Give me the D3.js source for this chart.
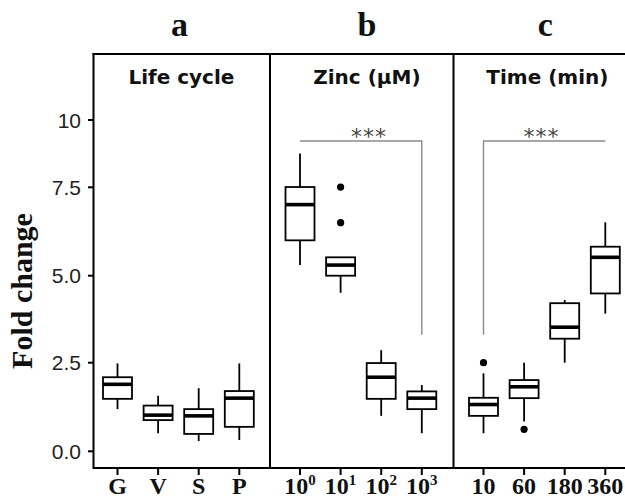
<html>
<head>
<script src="https://d3js.org/d3.v7.min.js"></script>
<style>
  body { margin: 0; background: #fff; }
  svg text { fill: #111; }
</style>
</head>
<body>
<script>
// tick values and labels of the shared y axis
var yTicks = [0, 2.5, 5, 7.5, 10];
var yTickLabels = ["0.0", "2.5", "5.0", "7.5", "10"];

// panels
var panelLetters = ["a", "b", "c"];
var panelTitles = ["Life cycle", "Zinc (\u00b5M)", "Time (min)"];

// categories
var lifeCats = ["G", "V", "S", "P"];
var zincExp = ["0", "1", "2", "3"];      // shown as 10^exp
var timeCats = ["10", "60", "180", "360"];

// box stats: [lower whisker, q1, median, q3, upper whisker]
var lifeStats = [
  [1.19, 1.48, 1.89, 2.09, 2.48],
  [0.51, 0.88, 1.02, 1.29, 1.57],
  [0.29, 0.49, 1.00, 1.19, 1.78],
  [0.32, 0.69, 1.50, 1.70, 2.48]
];
var zincStats = [
  [5.30, 6.00, 7.01, 7.51, 8.76],
  [4.51, 5.00, 5.30, 5.52, 5.52],
  [1.00, 1.48, 2.09, 2.49, 2.86],
  [0.51, 1.19, 1.50, 1.69, 1.87]
];
var timeStats = [
  [0.51, 1.00, 1.32, 1.51, 2.20],
  [0.84, 1.50, 1.82, 2.01, 2.50],
  [2.50, 3.19, 3.52, 4.21, 4.30],
  [3.91, 4.49, 5.52, 5.82, 6.51]
];

// outliers
var lifeOutliers = [[], [], [], []];
var zincOutliers = [[], [7.51, 6.50], [], []];
var timeOutliers = [[2.50], [0.62], [], []];

// significance brackets: [from category index, to category index, top value, bottom value]
var zincBracket = [0, 3, 9.22, 3.30];
var timeBracket = [0, 3, 9.22, 3.30];

var W = 625, H = 499;
var svg = d3.select("body").append("svg").attr("width", W).attr("height", H);

var plotTop = 54, plotBottom = 468;
// y axis of the figure is not uniform, so a piecewise scale through the ticks
var y = d3.scaleLinear()
  .domain([-0.47, 0, 2.5, 5, 7.5, 10, 12.4])
  .range([plotBottom, 451.3, 362.7, 275.7, 187.3, 120, plotTop]);

var panelX = [[93.5, 270], [270, 453.5], [453.5, 635]];
var firstOffset = [24, 30, 30];
var step = 40.6;

var panels = [
  { cats: lifeCats, stats: lifeStats, out: lifeOutliers, bracket: null, sup: false },
  { cats: zincExp, stats: zincStats, out: zincOutliers, bracket: zincBracket, sup: true },
  { cats: timeCats, stats: timeStats, out: timeOutliers, bracket: timeBracket, sup: false }
];

var boxW = 29;

panels.forEach(function(p, i) {
  var x0 = panelX[i][0], x1 = panelX[i][1];
  var x = d3.scalePoint()
    .domain(p.cats)
    .range([x0 + firstOffset[i], x0 + firstOffset[i] + step * (p.cats.length - 1)]);
  var mid = (x.range()[0] + x.range()[1]) / 2;

  // panel letter
  svg.append("text")
    .attr("x", mid + (i == 1 ? 6 : 1)).attr("y", 36)
    .attr("text-anchor", "middle")
    .style("font", "bold 34px 'Liberation Serif'")
    .text(panelLetters[i]);

  // panel title
  svg.append("text")
    .attr("x", mid + (i == 1 ? 6 : 3)).attr("y", 84)
    .attr("text-anchor", "middle")
    .style("font", "bold 20px 'DejaVu Sans'")
    .text(panelTitles[i]);

  // bottom x axis
  var g = svg.append("g").attr("transform", "translate(0," + plotBottom + ")");
  g.append("line").attr("x1", x0).attr("x2", Math.min(x1, W))
    .attr("stroke", "#000").attr("stroke-width", 2);
  p.cats.forEach(function(c) {
    g.append("line").attr("x1", x(c)).attr("x2", x(c)).attr("y1", 0).attr("y2", 7)
      .attr("stroke", "#000").attr("stroke-width", 2);
    var t = g.append("text")
      .attr("x", x(c)).attr("y", 26)
      .attr("text-anchor", "middle")
      .style("font", "bold 24px 'Liberation Serif'");
    if (p.sup) {
      t.append("tspan").text("10");
      t.append("tspan").attr("dy", -9).style("font-size", "15px").text(c);
    } else {
      t.text(c);
    }
  });

  // bracket
  if (p.bracket) {
    var b = p.bracket;
    var bx1 = x(p.cats[b[0]]), bx2 = x(p.cats[b[1]]);
    var path = i == 1
      ? [[bx1, y(b[2])], [bx2, y(b[2])], [bx2, y(b[3])]]
      : [[bx1, y(b[3])], [bx1, y(b[2])], [bx2, y(b[2])]];
    svg.append("path")
      .attr("d", d3.line()(path))
      .attr("fill", "none").attr("stroke", "#8a8a8a").attr("stroke-width", 1.4);
    svg.append("text")
      .attr("x", (bx1 + bx2) / 2 + (i == 1 ? 8 : -3)).attr("y", y(b[2]) + 3)
      .attr("text-anchor", "middle")
      .style("font", "22px 'DejaVu Sans'")
      .style("letter-spacing", "1px")
      .style("fill", "#444")
      .text("***");
  }

  // boxes
  var bg = svg.selectAll(null).data(p.stats).enter().append("g")
    .attr("transform", function(d, j) { return "translate(" + x(p.cats[j]) + ",0)"; });
  bg.append("line")
    .attr("y1", function(d) { return y(d[0]); }).attr("y2", function(d) { return y(d[4]); })
    .attr("stroke", "#000").attr("stroke-width", 1.8);
  bg.append("rect")
    .attr("x", -boxW / 2).attr("width", boxW)
    .attr("y", function(d) { return y(d[3]); })
    .attr("height", function(d) { return y(d[1]) - y(d[3]); })
    .attr("fill", "#fff").attr("stroke", "#000").attr("stroke-width", 1.8);
  bg.append("line")
    .attr("x1", -boxW / 2).attr("x2", boxW / 2)
    .attr("y1", function(d) { return y(d[2]); }).attr("y2", function(d) { return y(d[2]); })
    .attr("stroke", "#000").attr("stroke-width", 3.6);

  p.out.forEach(function(vals, j) {
    svg.selectAll(null).data(vals).enter().append("circle")
      .attr("cx", x(p.cats[j])).attr("cy", function(d) { return y(d); })
      .attr("r", 3.6).attr("fill", "#000");
  });

  // vertical frame line on the left of each panel
  svg.append("line").attr("x1", x0).attr("x2", x0).attr("y1", plotTop - 1).attr("y2", plotBottom + 1)
    .attr("stroke", "#000").attr("stroke-width", 2);
});

// top frame
svg.append("line").attr("x1", 92.5).attr("x2", W).attr("y1", plotTop).attr("y2", plotTop)
  .attr("stroke", "#000").attr("stroke-width", 2);

// y axis ticks and labels
var ya = svg.append("g");
yTicks.forEach(function(v, k) {
  ya.append("line").attr("x1", 88).attr("x2", 93).attr("y1", y(v)).attr("y2", y(v))
    .attr("stroke", "#000").attr("stroke-width", 2);
  ya.append("text").attr("x", 81).attr("y", y(v)).attr("dy", "0.36em")
    .attr("text-anchor", "end")
    .style("font", "21px 'Liberation Sans'")
    .style("fill", "#222")
    .text(yTickLabels[k]);
});

svg.append("text")
  .attr("transform", "translate(32,291) rotate(-90)")
  .attr("text-anchor", "middle")
  .style("font", "bold 30px 'Liberation Serif'")
  .text("Fold change");
</script>
</body>
</html>
